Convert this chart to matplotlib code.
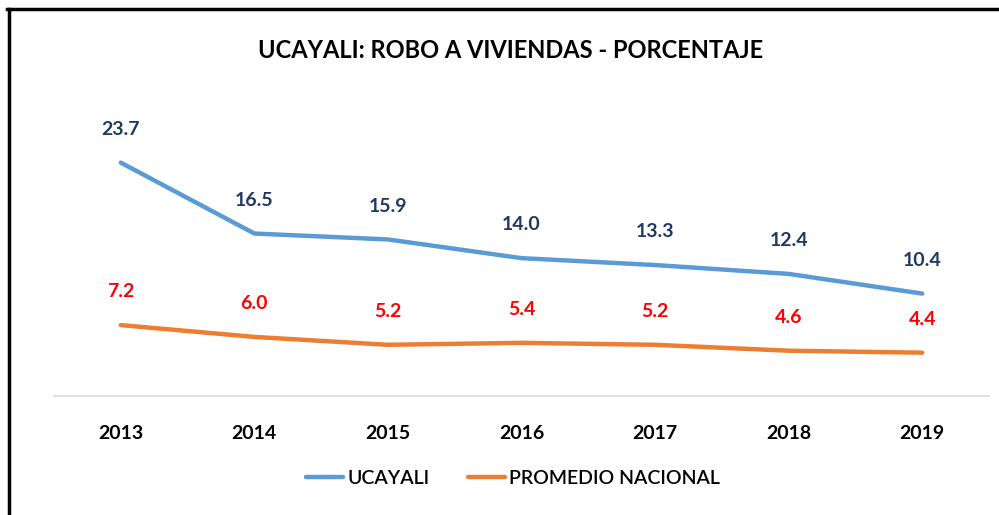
import matplotlib
matplotlib.use("Agg")
import matplotlib.pyplot as plt
from matplotlib.lines import Line2D

years = ["2013", "2014", "2015", "2016", "2017", "2018", "2019"]
ucayali = [23.7, 16.5, 15.9, 14.0, 13.3, 12.4, 10.4]
nacional = [7.2, 6.0, 5.2, 5.4, 5.2, 4.6, 4.4]
series_names = ["UCAYALI", "PROMEDIO NACIONAL"]
title = "UCAYALI: ROBO A VIVIENDAS - PORCENTAJE"

FONT = ["Lato", "DejaVu Sans"]
plt.rcParams["font.family"] = FONT

W, H = 999, 515
fig = plt.figure(figsize=(W / 100, H / 100), dpi=100)
fig.patch.set_facecolor("white")

# plot area: x from 54 to 989 px, y zero at 396 px
ax = fig.add_axes([54 / W, (H - 396) / H, (989 - 54) / W, 0.478])
x = list(range(len(years)))
ax.plot(x, ucayali, color="#5B9BD5", linewidth=3.2, solid_capstyle="round", label=series_names[0])
ax.plot(x, nacional, color="#ED7D31", linewidth=3.2, solid_capstyle="round", label=series_names[1])
ax.set_xlim(-0.5, len(years) - 0.5)
ax.set_ylim(0, 25)

for xi, v in zip(x, ucayali):
    ax.annotate(f"{v:.1f}", (xi, v), xytext=(0, 24), textcoords="offset points",
                ha="center", va="center", fontsize=14, fontweight="bold", color="#1F3864")
for xi, v in zip(x, nacional):
    ax.annotate(f"{v:.1f}", (xi, v), xytext=(0, 24), textcoords="offset points",
                ha="center", va="center", fontsize=14, fontweight="bold", color="#FF0000")

ax.set_xticks(x)
ax.set_xticklabels(years, fontsize=14, fontweight="bold")
ax.tick_params(axis="x", length=0, pad=21)
ax.set_yticks([])
for side in ["top", "right", "left"]:
    ax.spines[side].set_visible(False)
ax.spines["bottom"].set_color("#D9D9D9")
ax.spines["bottom"].set_linewidth(1.2)

fig.text(511 / W, 1 - 51 / H, title, ha="center", va="center", fontsize=17, fontweight="bold")

fig.legend(loc="center", bbox_to_anchor=(513 / W, 1 - 478 / H), ncol=2, frameon=False,
           prop={"size": 14, "weight": "semibold"}, handlelength=1.9, handletextpad=0.2,
           columnspacing=2.0)

# frame lines on top and left
fig.add_artist(Line2D([7 / W, 1], [1 - 8.5 / H, 1 - 8.5 / H], transform=fig.transFigure, color="black", linewidth=2.5))
fig.add_artist(Line2D([8.5 / W, 8.5 / W], [0, 1 - 8.5 / H], transform=fig.transFigure, color="black", linewidth=2.5))

fig.savefig("out.png", dpi=100)
